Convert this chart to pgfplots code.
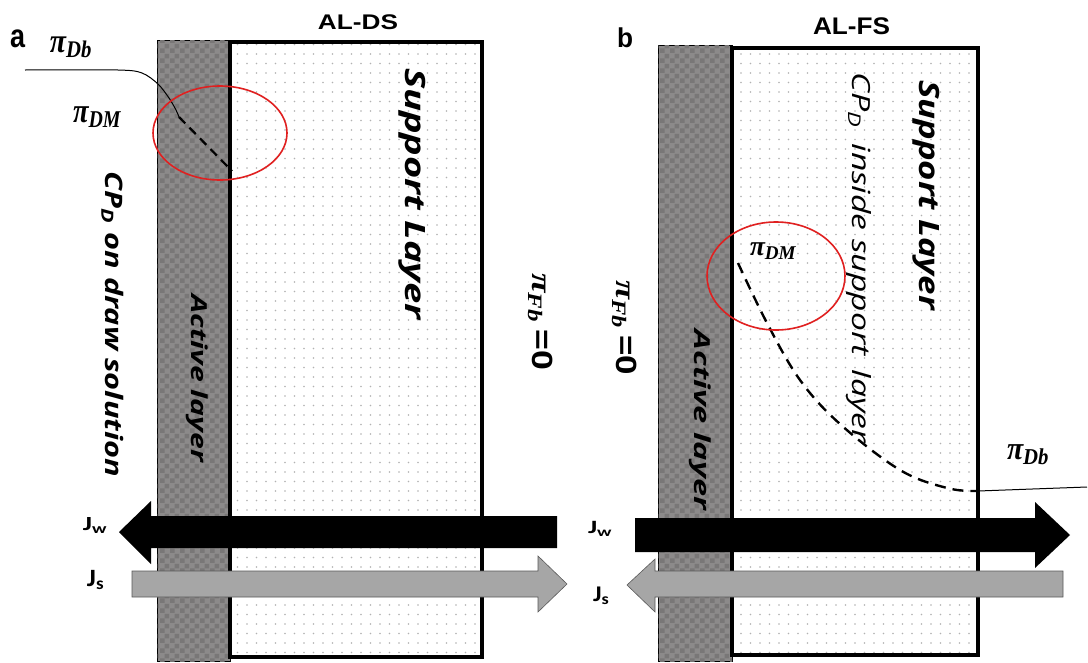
\documentclass[border=0pt]{standalone}
\usepackage{amsmath}
\usepackage{graphicx}
\usepackage{fontspec}
\setmainfont{Carlito}
\newfontfamily\headfont{Liberation Sans}
\newfontfamily\layerfont{Open Sans}
\newfontfamily\pifont{Liberation Serif}
\usepackage{pgfplots}
\pgfplotsset{compat=1.18}
\usetikzlibrary{patterns,patterns.meta}

% checker texture for the active layer
\tikzdeclarepattern{
  name=bigchecker,
  type=uncolored,
  bottom left={(0pt,0pt)},
  top right={(10pt,10pt)},
  tile size={(10pt,10pt)},
  code={\fill (0pt,0pt) rectangle (5pt,5pt); \fill (5pt,5pt) rectangle (10pt,10pt);}
}

\definecolor{activegray}{HTML}{8C8A8A}
\definecolor{checkgray}{HTML}{797777}
\definecolor{fluxgray}{HTML}{A6A6A6}
\definecolor{circred}{HTML}{E02020}

% text set to a given length and thickness
\newcommand{\fit}[3]{\resizebox*{#1pt}{#2pt}{#3}}
\newcommand{\pilab}[1]{{\pifont\bfseries\itshape π\textsubscript{#1}}}

\begin{document}
\begin{tikzpicture}
\begin{axis}[
  scale only axis, width=1088pt, height=662pt,
  xmin=0, xmax=1088, ymin=0, ymax=662, y dir=reverse,
  hide axis, clip=false, no markers,
  every node/.append style={inner sep=0pt},
]
% keeps the full drawing area in the bounding box
\addplot[draw=none, forget plot] coordinates {(0,0) (1088,662)};

% ---------------- panel a: AL-DS ----------------
% active layer
\addplot[draw=black, line width=0.8pt, fill=activegray] coordinates {(157,40) (230,40) (230,661.5) (157,661.5)} --cycle;
\addplot[draw=none, pattern=bigchecker, pattern color=checkgray] coordinates {(157.5,40.5) (230,40.5) (230,661) (157.5,661)} --cycle;
% support layer
\addplot[draw=none, fill=white] coordinates {(230,42) (482,42) (482,657) (230,657)} --cycle;
\addplot[draw=none, pattern={Dots[distance=9.5pt, radius=0.85pt]}, pattern color=gray!60] coordinates {(232,44) (480,44) (480,655) (232,655)} --cycle;
\addplot[draw=black, line width=4pt] coordinates {(230,42) (482,42) (482,657) (230,657)} --cycle;

% concentration profile
\addplot[black, line width=1pt, smooth, tension=0.5] coordinates {(25,70) (118,70) (142,73) (158,84) (169,98) (176,110) (179,117)};
\addplot[black, line width=2.2pt, dash pattern=on 9pt off 6pt] coordinates {(179,117) (232,171)};
\draw[circred, line width=1.6pt] (axis cs:220,133) ellipse [x radius=67pt, y radius=47pt];

% water flux (to the left) and solute flux (to the right)
\addplot[draw=none, fill=black] coordinates {(557,516) (151,516) (151,501) (119,532) (151,564) (151,548) (557,548)} --cycle;
\addplot[draw=gray!70!black, line width=0.6pt, fill=fluxgray] coordinates {(132,571) (538,571) (538,556) (567,584) (538,612) (538,597) (132,597)} --cycle;

% labels
\node at (axis cs:17.5,39) {\fit{15}{18}{\headfont\bfseries a}};
\node at (axis cs:358,22) {\fit{80}{15}{\headfont\bfseries AL-DS}};
\node at (axis cs:71.5,47.5) {\fit{43}{21}{\pilab{Db}}};
\node at (axis cs:97.5,117.5) {\fit{49}{21}{\pilab{DM}}};
\node[rotate=-90] at (axis cs:112.5,324.5) {\fit{305}{22}{\layerfont\bfseries\itshape CP\textsubscript{D} on draw solution}};
\node[rotate=-90] at (axis cs:197.5,378.5) {\fit{167}{22}{\layerfont\bfseries\itshape Active layer}};
\node[rotate=-90] at (axis cs:412.5,194) {\fit{252}{27}{\layerfont\bfseries\itshape Support Layer}};
\node[rotate=-90] at (axis cs:540.5,321.5) {\fit{97}{25}{\pilab{Fb}\,{\headfont\bfseries =0}}};
\node at (axis cs:95.5,525.5) {\fit{25}{16}{\bfseries J\textsubscript{w}}};
\node at (axis cs:96,580) {\fit{18}{20}{\bfseries J\textsubscript{s}}};

% ---------------- panel b: AL-FS ----------------
\addplot[draw=black, line width=0.8pt, fill=activegray] coordinates {(658,45) (732,45) (732,661.5) (658,661.5)} --cycle;
\addplot[draw=none, pattern=bigchecker, pattern color=checkgray] coordinates {(658.5,45.5) (732,45.5) (732,661) (658.5,661)} --cycle;
\addplot[draw=none, fill=white] coordinates {(732,48) (978,48) (978,655) (732,655)} --cycle;
\addplot[draw=none, pattern={Dots[distance=9.5pt, radius=0.85pt]}, pattern color=gray!60] coordinates {(734,50) (976,50) (976,653) (734,653)} --cycle;
\addplot[draw=black, line width=4pt] coordinates {(732,48) (978,48) (978,655) (732,655)} --cycle;

% concentration profile inside the support layer
\addplot[black, line width=2.4pt, dash pattern=on 11pt off 7pt, smooth, tension=0.6] coordinates {(738,263) (767,323) (800,380) (840,424) (900,470) (947,488) (976,491)};
\addplot[black, line width=1pt] coordinates {(978,491) (1087,487)};
\draw[circred, line width=1.6pt] (axis cs:776,276) ellipse [x radius=69pt, y radius=54pt];

% water flux (to the right) and solute flux (to the left)
\addplot[draw=none, fill=black] coordinates {(635,518) (1035,518) (1035,502) (1070,535) (1035,568) (1035,552) (635,552)} --cycle;
\addplot[draw=gray!70!black, line width=0.6pt, fill=fluxgray] coordinates {(1063,571) (655,571) (655,559) (627,585) (655,612) (655,597) (1063,597)} --cycle;

\node at (axis cs:625,38) {\fit{16}{20}{\headfont\bfseries b}};
\node at (axis cs:851.5,26.5) {\fit{77}{17}{\headfont\bfseries AL-FS}};
\node at (axis cs:773.5,251.5) {\fit{47}{17}{\pilab{DM}}};
\node at (axis cs:1028.5,455) {\fit{43}{20}{\pilab{Db}}};
\node[rotate=-90] at (axis cs:926.5,195) {\fit{230}{27}{\layerfont\bfseries\itshape Support Layer}};
\node[rotate=-90] at (axis cs:858.5,258) {\fit{370}{25}{\layerfont\itshape CP\textsubscript{D}\, inside support\, layer}};
\node[rotate=-90] at (axis cs:700,420) {\fit{180}{22}{\layerfont\bfseries\itshape Active layer}};
\node[rotate=-90] at (axis cs:624.5,327.5) {\fit{95}{25}{\pilab{Fb}\,{\headfont\bfseries =0}}};
\node at (axis cs:600.5,528.5) {\fit{25}{15}{\bfseries J\textsubscript{w}}};
\node at (axis cs:601.5,596) {\fit{17}{18}{\bfseries J\textsubscript{s}}};
\end{axis}
\end{tikzpicture}
\end{document}
